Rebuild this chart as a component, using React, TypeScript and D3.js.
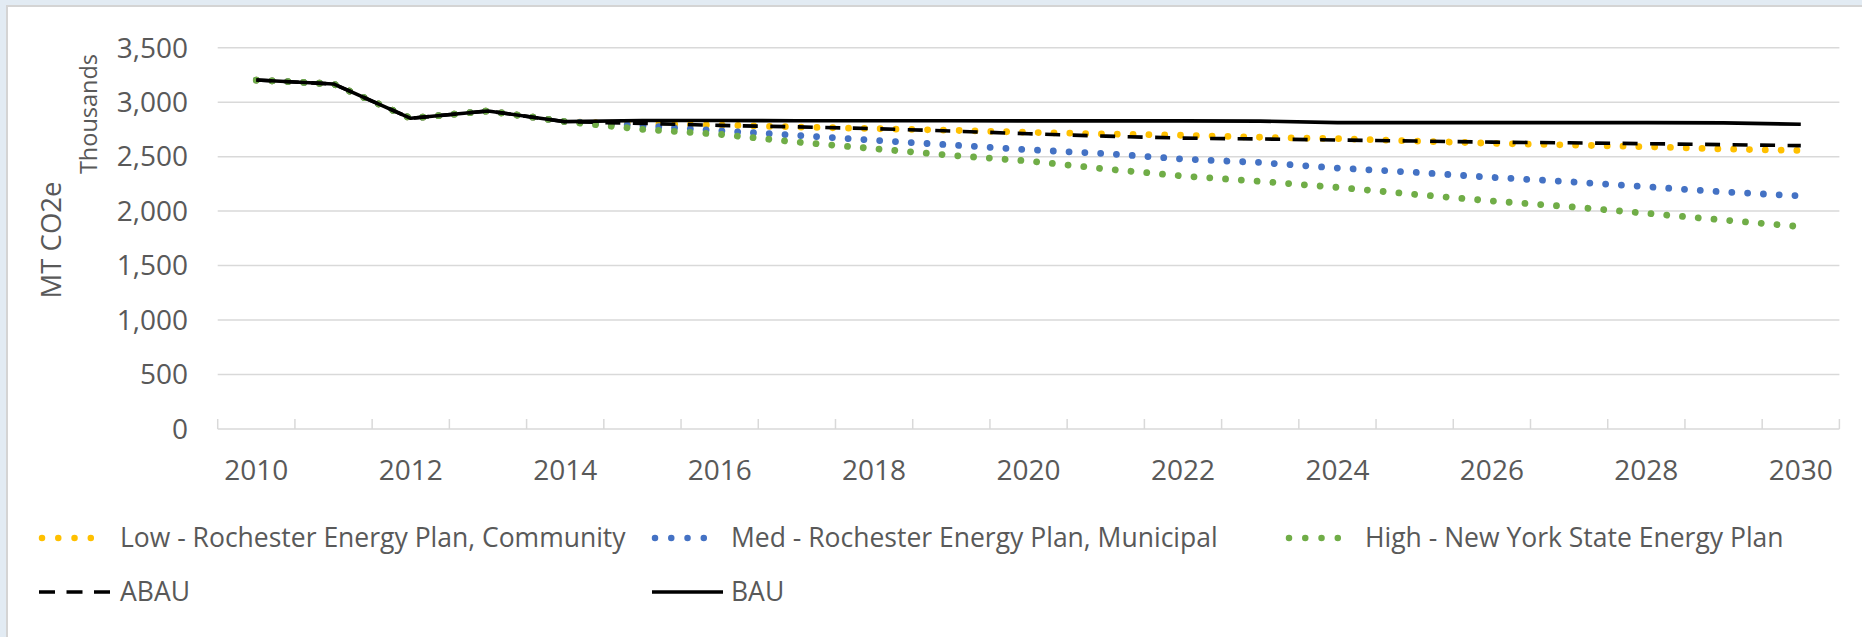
import React from 'react';
import * as d3 from 'd3';

// ---------- data ----------
const years = ['2010','2011','2012','2013','2014','2015','2016','2017','2018','2019','2020','2021','2022','2023','2024','2025','2026','2027','2028','2029','2030'];
const xTickLabels = ['2010','2012','2014','2016','2018','2020','2022','2024','2026','2028','2030'];
const yTickValues = [0, 500, 1000, 1500, 2000, 2500, 3000, 3500];

const lowValues  = [3203,3167,2852,2919,2821,2800,2790,2772,2757,2742,2723,2708,2696,2678,2665,2644,2622,2607,2591,2570,2556];
const medValues  = [3203,3167,2852,2919,2821,2784,2738,2696,2650,2607,2563,2528,2478,2446,2395,2356,2310,2270,2224,2176,2139];
const highValues = [3203,3167,2852,2919,2821,2751,2705,2634,2573,2512,2460,2387,2322,2273,2218,2154,2093,2041,1980,1918,1857];
const abauValues = [3203,3167,2852,2919,2821,2805,2787,2773,2757,2735,2710,2688,2670,2662,2653,2643,2633,2627,2619,2610,2601];
const bauValues  = [3203,3167,2852,2919,2821,2832,2832,2830,2830,2830,2828,2828,2828,2826,2812,2812,2812,2812,2812,2810,2797];

const seriesNames = [
  'Low - Rochester Energy Plan, Community',
  'Med - Rochester Energy Plan, Municipal',
  'High - New York State Energy Plan',
  'ABAU',
  'BAU',
];

// ---------- styles ----------
const FONT = '"Open Sans", "DejaVu Sans", sans-serif';
const TEXT = '#595959';
const GRID = '#D9D9D9';

type Style = { color: string; width: number; dash: string; cap: 'round' | 'butt' };
const styles: Style[] = [
  { color: '#FFC000', width: 6.8, dash: '0.01 15.8', cap: 'round' },
  { color: '#4472C4', width: 6.8, dash: '0.01 15.8', cap: 'round' },
  { color: '#70AD47', width: 6.8, dash: '0.01 15.8', cap: 'round' },
  { color: '#000000', width: 3.6, dash: '15 12.5', cap: 'butt' },
  { color: '#000000', width: 3.6, dash: '', cap: 'butt' },
];
const seriesValues = [lowValues, medValues, highValues, abauValues, bauValues];

export default function App() {
  const W = 1862, H = 637;
  const x = d3.scaleBand<string>().domain(years).range([217.7, 1839.4]).padding(0);
  const y = d3.scaleLinear().domain([0, 3500]).range([429, 47.7]);
  const bw = x.bandwidth();
  const cx = (yr: string) => (x(yr) as number) + bw / 2;

  const lineGen = d3.line<number>()
    .x((_, i) => cx(years[i]))
    .y((d) => y(d));

  const boundaries = d3.range(years.length + 1).map((i) => x.range()[0] + i * bw);

  // legend layout
  const legendItems = [
    { sx: 39, tx: 120, cy: 538 },
    { sx: 652, tx: 731, cy: 538 },
    { sx: 1286, tx: 1365, cy: 538 },
    { sx: 39, tx: 120, cy: 592 },
    { sx: 652, tx: 731, cy: 592 },
  ];

  return (
    <svg width={W} height={H} style={{ position: 'absolute', left: 0, top: 0, display: 'block' }}
      fontFamily={FONT}>
      <rect x={0} y={0} width={W} height={H} fill="#E2EBF3" />
      <rect x={7} y={6} width={W} height={H + 10} fill="#FFFFFF" stroke="#D4D4D4" strokeWidth={2} />

      {/* gridlines */}
      {yTickValues.filter((v) => v > 0).map((v) => (
        <line key={v} x1={x.range()[0]} x2={x.range()[1]} y1={y(v)} y2={y(v)} stroke={GRID} strokeWidth={1.5} />
      ))}
      {/* x axis */}
      <line x1={x.range()[0]} x2={x.range()[1]} y1={y(0)} y2={y(0)} stroke={GRID} strokeWidth={1.5} />
      {boundaries.map((bx, i) => (
        <line key={i} x1={bx} x2={bx} y1={y(0)} y2={y(0) - 10} stroke={GRID} strokeWidth={1.5} />
      ))}

      {/* y tick labels */}
      {yTickValues.map((v) => (
        <text key={v} x={188} y={y(v)} dy="0.35em" textAnchor="end" fontSize={28} fill={TEXT}>
          {d3.format(',')(v)}
        </text>
      ))}
      {/* x tick labels */}
      {xTickLabels.map((t) => (
        <text key={t} x={cx(t)} y={470} dy="0.35em" textAnchor="middle" fontSize={28} fill={TEXT}>
          {t}
        </text>
      ))}

      {/* axis titles */}
      <text transform={`translate(61,240) rotate(-90)`} textAnchor="middle" fontSize={27.5} fill={TEXT}>MT CO2e</text>
      <text transform={`translate(97,114) rotate(-90)`} textAnchor="middle" fontSize={23.5} fill={TEXT}>Thousands</text>

      {/* series */}
      {seriesValues.map((vals, i) => (
        <path key={i} d={lineGen(vals) as string} fill="none" stroke={styles[i].color}
          strokeWidth={styles[i].width} strokeDasharray={styles[i].dash || undefined}
          strokeLinecap={styles[i].cap} strokeLinejoin="round" />
      ))}

      {/* legend */}
      {legendItems.map((it, i) => {
        const st = styles[i];
        return (
          <g key={i}>
            {i < 3 ? (
              <line x1={it.sx + 3} x2={it.sx + 68} y1={it.cy} y2={it.cy} stroke={st.color} strokeWidth={6.5}
                strokeDasharray="0.01 16.25" strokeLinecap="round" />
            ) : i === 3 ? (
              <line x1={it.sx} x2={it.sx + 71} y1={it.cy} y2={it.cy} stroke={st.color} strokeWidth={3.6}
                strokeDasharray="16 11.5" />
            ) : (
              <line x1={it.sx} x2={it.sx + 71} y1={it.cy} y2={it.cy} stroke={st.color} strokeWidth={3.6} />
            )}
            <text x={it.tx} y={it.cy} dy="0.35em" fontSize={26.5} fill={TEXT}>{seriesNames[i]}</text>
          </g>
        );
      })}
    </svg>
  );
}
